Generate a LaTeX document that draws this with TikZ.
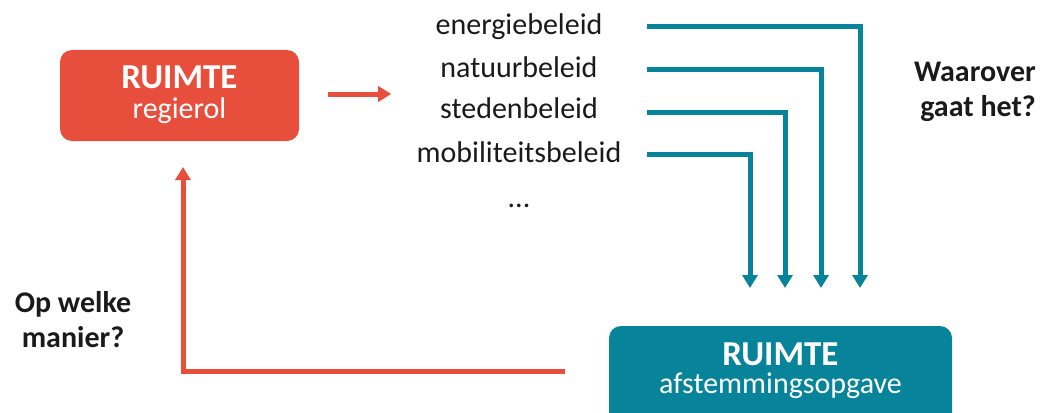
\documentclass[tikz,border=0pt]{standalone}
\usepackage{fontspec}
\setmainfont{Carlito}
\usetikzlibrary{arrows.meta}
\definecolor{ruimtered}{HTML}{E84E3C}
\definecolor{ruimteteal}{HTML}{07849A}
\definecolor{ink}{HTML}{1A1A1A}
\tikzset{
  box/.style={rounded corners=12pt, inner sep=0pt, draw=none},
  boxtitle/.style={anchor=base, text=white, font=\fontsize{35}{40}\selectfont\bfseries, inner sep=0pt},
  boxsub/.style={anchor=base, text=white, font=\fontsize{30}{36}\selectfont, inner sep=0pt},
  item/.style={anchor=base, text=ink, font=\fontsize{30}{36}\selectfont, inner sep=0pt},
  question/.style={text=ink, font=\fontsize{30}{35}\selectfont\bfseries, inner sep=0pt},
  flow/.style={line width=5pt, ruimteteal, -{Triangle[width=15pt,length=13pt]}},
  back/.style={line width=5pt, ruimtered, -{Triangle[width=15pt,length=13pt]}},
}
\begin{document}
\begin{tikzpicture}[x=1pt, y=-1pt]
\useasboundingbox (0,0) rectangle (1040,412);
\clip (0,0) rectangle (1040,412);

% boxes
\node[box, fill=ruimtered, minimum width=239pt, minimum height=91pt] (regie) at (179.5,95.5) {};
\node[boxtitle] (regieT) at (179.5,88) {RUIMTE};
\node[boxsub] (regieS) at (179.5,118) {regierol};

\node[box, fill=ruimteteal, minimum width=343pt, minimum height=100pt] (afst) at (780.5,376) {};
\node[boxtitle] (afstT) at (780.5,365) {RUIMTE};
\node[boxsub] (afstS) at (780.5,393) {afstemmingsopgave};

% policy list
\node[item] (energie) at (519,35) {energiebeleid};
\node[item] (natuur) at (519,77) {natuurbeleid};
\node[item] (steden) at (519,118) {stedenbeleid};
\node[item] (mobiel) at (519,162) {mobiliteitsbeleid};
\node[item] (meer) at (519,207) {...};

% questions
\node[question, align=center] (hoe) at (73,320) {Op welke\\manier?};
\node[question, align=right, anchor=east] (wat) at (1036,92) {Waarover\\gaat het?};

% teal feeds
\coordinate (s1) at (647,27);  \coordinate (e1) at (860,288);
\coordinate (s2) at (647,69);  \coordinate (e2) at (821,288);
\coordinate (s3) at (647,112); \coordinate (e3) at (785,288);
\coordinate (s4) at (647,154); \coordinate (e4) at (750,288);
\draw[flow] (s1) -| (e1);
\draw[flow] (s2) -| (e2);
\draw[flow] (s3) -| (e3);
\draw[flow] (s4) -| (e4);

% red arrows
\draw[back] ([xshift=29pt,yshift=1.5pt]regie.east) -- ([xshift=92pt,yshift=1.5pt]regie.east);
\coordinate (r1) at (565,371);
\coordinate (r2) at (183,167);
\draw[back] (r1) -| (r2);
\end{tikzpicture}
\end{document}
